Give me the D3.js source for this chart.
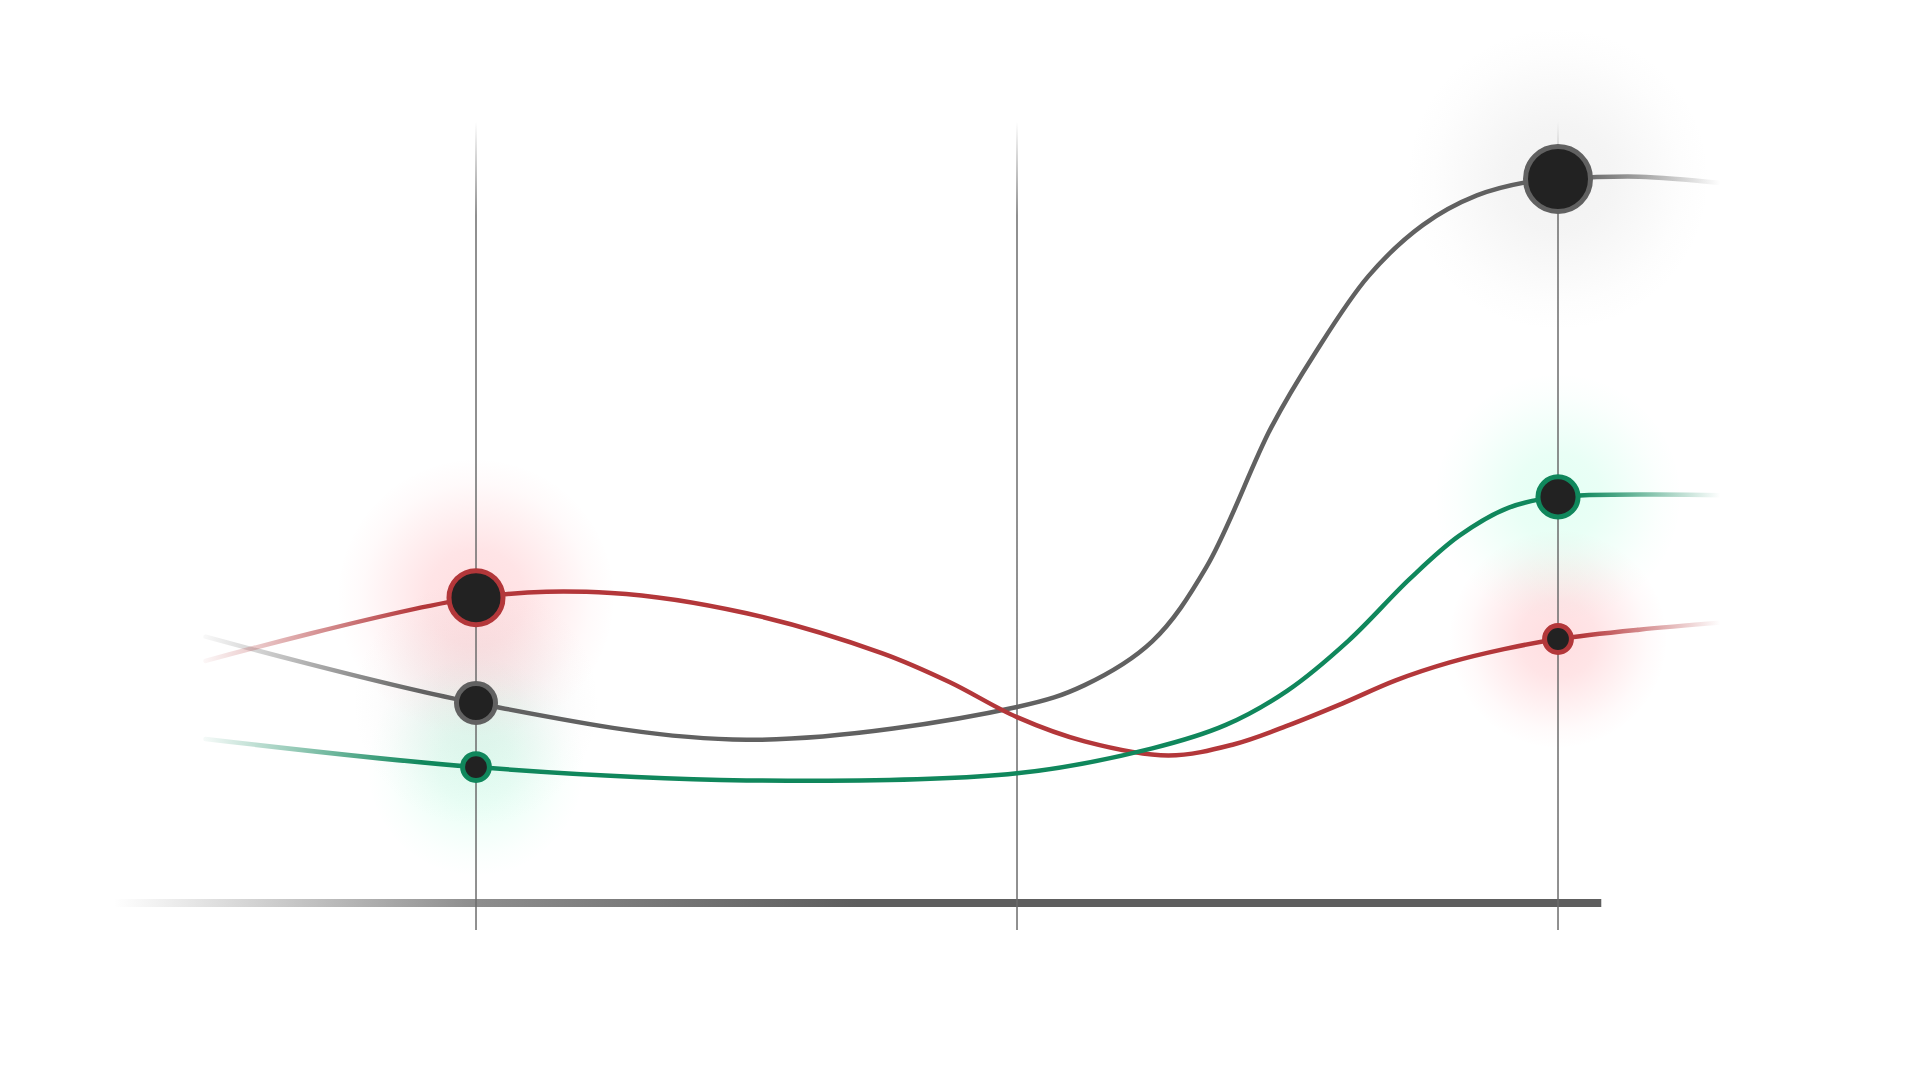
<!DOCTYPE html>
<html>
<head>
<meta charset="utf-8">
<script src="https://cdn.jsdelivr.net/npm/d3@7"></script>
<style>
  html, body { margin: 0; padding: 0; background: #fff; }
  svg { display: block; }
</style>
</head>
<body>
<div id="chart"></div>
<script>
// time positions: 0, 1 and 2 are the three guide lines
const guides = [0, 1, 2];

const graySteps   = [-0.5, 0, 0.5, 1, 1.125, 1.25, 1.35, 1.47, 1.55, 1.65, 1.75, 1.85, 1.95, 2, 2.15, 2.3];
const grayValues  = [34.1, 25.6, 20.9, 25.1, 27.9, 33.5, 43.0, 60.9, 70.3, 80.3, 86.8, 90.6, 92.4, 92.7, 93.0, 92.2];

const redSteps    = [-0.5, 0, 0.25, 0.5, 0.75, 0.875, 1, 1.125, 1.28, 1.4, 1.5, 1.6, 1.7, 1.8, 1.9, 2, 2.15, 2.3];
const redValues   = [31.0, 39.1, 39.7, 37.1, 32.0, 28.3, 23.8, 20.7, 18.9, 20.3, 22.7, 25.5, 28.5, 30.8, 32.5, 33.8, 35.0, 35.9];

const greenSteps  = [-0.5, 0, 0.5, 1, 1.25, 1.386, 1.5, 1.613, 1.726, 1.817, 1.908, 2, 2.3];
const greenValues = [21.0, 17.4, 15.7, 16.6, 19.8, 22.8, 27.2, 33.6, 41.5, 47.0, 50.6, 52.0, 52.2];

// highlighted points on the first and last guide, with a weight for the dot size
const markerSteps = [0, 2];
const grayWeights  = [36, 100];
const redWeights   = [69, 17];
const greenWeights = [17, 38];

const series = [
  { name: 'gray',  steps: graySteps,  values: grayValues,  weights: grayWeights,  color: '#616161', glow: '#9a9a9a', glowOpacity: 0.13 },
  { name: 'red',   steps: redSteps,   values: redValues,   weights: redWeights,   color: '#b3373a', glow: '#ff3b4a', glowOpacity: 0.17 },
  { name: 'green', steps: greenSteps, values: greenValues, weights: greenWeights, color: '#10875c', glow: '#1dffa0', glowOpacity: 0.12 }
];

const width = 1920;
const height = 1080;

const x = d3.scaleLinear().domain([0, 2]).range([476, 1558]);
const y = d3.scaleLinear().domain([0, 100]).range([903, 122]);
const r = d3.scaleSqrt().domain([0, 100]).range([0, 32.5]);

const svg = d3.select('#chart').append('svg')
  .attr('width', width)
  .attr('height', height)
  .attr('viewBox', [0, 0, width, height]);

svg.append('rect').attr('width', width).attr('height', height).attr('fill', '#fff');

const defs = svg.append('defs');

// line fades at both ends, soft glow per colour
series.forEach(s => {
  const g = defs.append('linearGradient')
    .attr('id', 'fade-' + s.name)
    .attr('gradientUnits', 'userSpaceOnUse')
    .attr('x1', x(-0.52)).attr('x2', x(2.3))
    .attr('y1', 0).attr('y2', 0);
  const span = x(2.3) - x(-0.52);
  [[x(-0.52), 0], [x(-0.1), 1], [x(2.04), 1], [x(2.3), 0]].forEach(([px, o]) => {
    g.append('stop')
      .attr('offset', (px - x(-0.52)) / span)
      .attr('stop-color', s.color)
      .attr('stop-opacity', o);
  });

  const rg = defs.append('radialGradient').attr('id', 'glow-' + s.name);
  [[0, 1], [0.35, 0.8], [0.6, 0.45], [0.82, 0.15], [1, 0]].forEach(([off, o]) => {
    rg.append('stop')
      .attr('offset', off)
      .attr('stop-color', s.glow)
      .attr('stop-opacity', o * s.glowOpacity);
  });
});

const guideFade = defs.append('linearGradient')
  .attr('id', 'guide-fade')
  .attr('gradientUnits', 'userSpaceOnUse')
  .attr('x1', 0).attr('x2', 0)
  .attr('y1', y(100)).attr('y2', y(88));
guideFade.append('stop').attr('offset', 0).attr('stop-color', '#6b6b6b').attr('stop-opacity', 0);
guideFade.append('stop').attr('offset', 1).attr('stop-color', '#6b6b6b').attr('stop-opacity', 1);

const baseFade = defs.append('linearGradient')
  .attr('id', 'base-fade')
  .attr('gradientUnits', 'userSpaceOnUse')
  .attr('x1', x(-0.67)).attr('x2', x(2.08))
  .attr('y1', 0).attr('y2', 0);
[[0, 0], [0.24, 0.7], [0.5, 1], [1, 1]].forEach(([off, o]) => {
  baseFade.append('stop').attr('offset', off).attr('stop-color', '#5e5e5e').attr('stop-opacity', o);
});

// points that get a dot
const markers = series.flatMap(s => markerSteps.map((t, i) => ({
  s, t, value: s.values[s.steps.indexOf(t)], weight: s.weights[i]
})));

// glows
svg.append('g')
  .selectAll('circle')
  .data(markers)
  .join('circle')
    .attr('cx', d => x(d.t))
    .attr('cy', d => y(d.value))
    .attr('r', d => 80 + r(d.weight) * 2.2)
    .attr('fill', d => 'url(#glow-' + d.s.name + ')');

// baseline
svg.append('line')
  .attr('x1', x(-0.67)).attr('x2', x(2.08))
  .attr('y1', y(0)).attr('y2', y(0))
  .attr('stroke', 'url(#base-fade)')
  .attr('stroke-width', 8);

// guide lines
svg.append('g')
  .selectAll('line')
  .data(guides)
  .join('line')
    .attr('x1', d => x(d)).attr('x2', d => x(d) + 0.01)
    .attr('y1', y(100)).attr('y2', y(0) + 27)
    .attr('stroke', 'url(#guide-fade)')
    .attr('stroke-width', 1.5);

const line = d3.line()
  .x(d => x(d[0]))
  .y(d => y(d[1]))
  .curve(d3.curveCatmullRom.alpha(0.5));

svg.append('g')
  .selectAll('path')
  .data(series)
  .join('path')
    .attr('d', d => line(d3.zip(d.steps, d.values)))
    .attr('fill', 'none')
    .attr('stroke', d => 'url(#fade-' + d.name + ')')
    .attr('stroke-width', 4.5)
    .attr('stroke-linecap', 'round');

// dots
svg.append('g')
  .selectAll('circle')
  .data(markers)
  .join('circle')
    .attr('cx', d => x(d.t))
    .attr('cy', d => y(d.value))
    .attr('r', d => r(d.weight))
    .attr('fill', '#222')
    .attr('stroke', d => d.s.color)
    .attr('stroke-width', 5);
</script>
</body>
</html>
